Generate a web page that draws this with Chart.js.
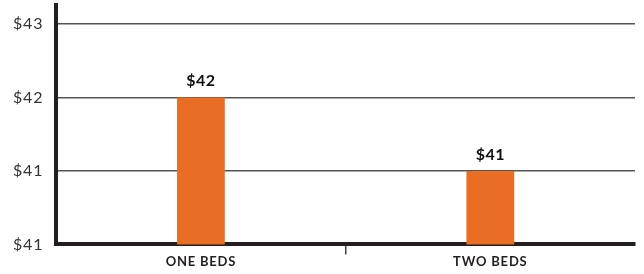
<!DOCTYPE html>
<html>
<head>
<meta charset="utf-8">
<script src="https://cdn.jsdelivr.net/npm/chart.js@4.4.1/dist/chart.umd.min.js"></script>
<style>
html,body{margin:0;padding:0;background:#fff;}
#wrap{width:644px;height:274px;position:relative;}
</style>
</head>
<body>
<div id="wrap"><canvas id="c" width="644" height="274"></canvas></div>
<script>
const categories = ["ONE BEDS", "TWO BEDS"];
const rentValues = [41.9, 41.2];
const yTickValues = [40.5, 41.2, 41.9, 42.6];
const yMin = 40.5;
const yMax = 42.78;

const fmt = v => "$" + Math.round(v);

const spacing = {
  id: "spacing",
  beforeUpdate(chart) { chart.ctx.letterSpacing = "0.8px"; },
  beforeDraw(chart) { chart.ctx.letterSpacing = "0.8px"; }
};

const valueLabels = {
  id: "valueLabels",
  afterDatasetsDraw(chart) {
    const ctx = chart.ctx;
    const meta = chart.getDatasetMeta(0);
    ctx.save();
    ctx.letterSpacing = "0.5px";
    ctx.font = "bold 16px Lato, 'Open Sans', sans-serif";
    ctx.fillStyle = "#111";
    ctx.textAlign = "center";
    ctx.textBaseline = "alphabetic";
    meta.data.forEach((bar, i) => {
      ctx.fillText(fmt(chart.data.datasets[0].data[i]), bar.x, bar.y - 11);
    });
    ctx.restore();
  }
};

new Chart(document.getElementById("c"), {
  type: "bar",
  data: {
    labels: categories,
    datasets: [{
      data: rentValues,
      backgroundColor: "#EA6D24",
      borderWidth: 0,
      barPercentage: 0.165,
      categoryPercentage: 1.0
    }]
  },
  options: {
    responsive: false,
    animation: false,
    layout: { padding: { top: 5, right: 9, left: 12, bottom: 4 } },
    plugins: { legend: { display: false }, tooltip: { enabled: false } },
    scales: {
      x: {
        offset: true,
        grid: {
          offset: true,
          drawOnChartArea: false,
          drawTicks: true,
          tickLength: 10,
          lineWidth: 1.5,
          color: ctx => ctx.index === 1 ? "#444" : "rgba(0,0,0,0)"
        },
        border: { display: true, width: 4, color: "#231F20" },
        ticks: {
          color: "#231F20",
          font: { family: "Lato, 'Open Sans', sans-serif", size: 13, weight: "bold" },
          padding: 0
        }
      },
      y: {
        min: yMin,
        max: yMax,
        afterBuildTicks: axis => { axis.ticks = yTickValues.map(v => ({ value: v })); },
        grid: { color: "#555", lineWidth: 1.5, drawTicks: true, tickLength: 12, tickColor: "rgba(0,0,0,0)" },
        border: { display: true, width: 4, color: "#231F20" },
        ticks: {
          color: "#333",
          font: { family: "Lato, 'Open Sans', sans-serif", size: 16, lineHeight: 0.3 },
          padding: 1,
          callback: v => fmt(v)
        }
      }
    }
  },
  plugins: [spacing, valueLabels]
});
</script>
</body>
</html>
